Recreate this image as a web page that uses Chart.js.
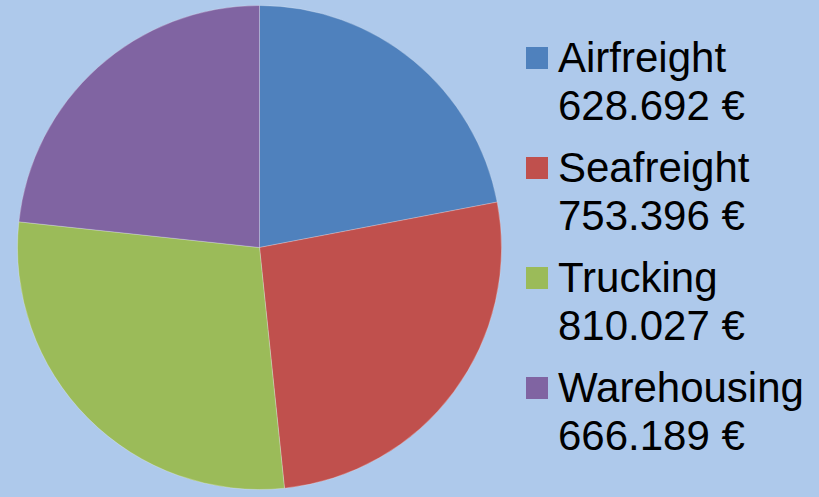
<!DOCTYPE html>
<html lang="de">
<head>
<meta charset="UTF-8" />
<title>Kosten</title>
<script src="https://cdn.jsdelivr.net/npm/chart.js"></script>
<style>
  * { margin: 0; padding: 0; box-sizing: border-box; }
  body {
    width: 819px;
    height: 497px;
    background: #aec9eb;
    font-family: 'Liberation Sans', Arial, sans-serif;
    overflow: hidden;
    position: relative;
  }
  .pie-box {
    position: absolute;
    left: 17px;
    top: 5px;
    width: 485px;
    height: 485px;
  }
  .legend {
    position: absolute;
    left: 526px;
    top: 34px;
  }
  .legend .item {
    position: relative;
    padding-left: 32px;
    font-size: 42px;
    line-height: 48px;
    color: #000;
    height: 110px;
    white-space: nowrap;
  }
  .legend .swatch {
    position: absolute;
    left: 0;
    top: 13px;
    width: 22px;
    height: 22px;
  }
</style>
</head>
<body>
  <div class="pie-box"><canvas id="pie"></canvas></div>
  <div class="legend" id="legend"></div>

<script>
  const categories = ['Airfreight', 'Seafreight', 'Trucking', 'Warehousing'];
  const costs = [628692, 753396, 810027, 666189];
  const costLabels = ['628.692 €', '753.396 €', '810.027 €', '666.189 €'];
  const colors = ['#4f81bd', '#c0504d', '#9bbb59', '#8064a2'];

  new Chart(document.getElementById('pie'), {
    type: 'pie',
    data: {
      labels: categories,
      datasets: [{
        data: costs,
        backgroundColor: colors,
        borderColor: 'rgba(255,255,255,0.25)',
        borderWidth: 1
      }]
    },
    options: {
      responsive: true,
      maintainAspectRatio: false,
      animation: false,
      layout: { padding: 0 },
      plugins: {
        legend: { display: false },
        tooltip: { enabled: false }
      }
    }
  });

  // legend built by hand, two lines per entry
  const legend = document.getElementById('legend');
  categories.forEach((name, i) => {
    const item = document.createElement('div');
    item.className = 'item';
    item.innerHTML = '<span class="swatch" style="background:' + colors[i] + '"></span>' +
      name + '<br>' + costLabels[i];
    legend.appendChild(item);
  });
</script>
</body>
</html>
